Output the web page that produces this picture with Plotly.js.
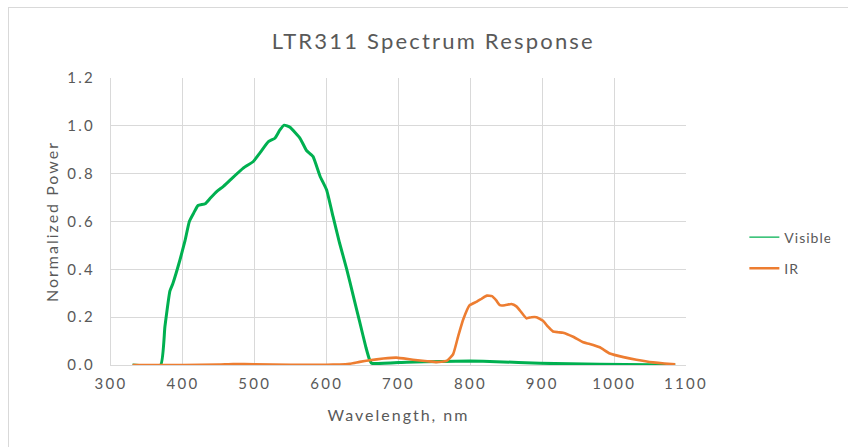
<!DOCTYPE html>
<html>
<head>
<meta charset="utf-8">
<script src="https://cdn.plot.ly/plotly-3.0.1.min.js"></script>
<style>
  html, body { margin: 0; padding: 0; background: #ffffff; overflow: hidden; }
  #wrap { position: relative; width: 848px; height: 447px; }
  #chart { position: absolute; left: 0; top: 0; width: 848px; height: 447px; }
  #frame { position: absolute; left: 8px; top: 7px; width: 900px; height: 500px;
           border-left: 1px solid #d9d9d9; border-top: 1px solid #d9d9d9; pointer-events: none; }
  #chart .gtitle { letter-spacing: 2.2px; }
  #chart .xtick text, #chart .ytick text { letter-spacing: 2.3px; }
  #chart .xtitle, #chart .ytitle { letter-spacing: 2px; }
  #chart .legendtext { letter-spacing: 1px; }
</style>
</head>
<body>
<div id="wrap">
  <div id="chart"></div>
  <div id="frame"></div>
</div>
<script>
// Visible channel (green)
const visWavelength = [330, 369, 375, 382, 386, 396, 403, 409, 415, 421, 431, 438, 447, 456, 466, 484, 498, 507, 519, 528, 535, 541, 549, 563, 572, 581, 591, 600, 609, 618, 628, 637, 646, 655, 660, 663, 711, 760, 799, 836, 897, 980, 1085];
const visPower      = [0, 0, 0.16, 0.31, 0.34, 0.44, 0.52, 0.60, 0.635, 0.667, 0.674, 0.697, 0.725, 0.746, 0.774, 0.823, 0.851, 0.886, 0.934, 0.948, 0.983, 1.003, 0.994, 0.948, 0.897, 0.872, 0.788, 0.732, 0.62, 0.51, 0.40, 0.29, 0.18, 0.07, 0.02, 0.007, 0.012, 0.015, 0.017, 0.014, 0.007, 0.003, 0];

// IR channel (orange)
const irWavelength = [330, 400, 450, 470, 500, 550, 600, 618, 632, 646, 660, 679, 697, 720, 740, 753, 767, 776, 783, 790, 799, 809, 816, 823, 830, 836, 841, 848, 857, 864, 871, 878, 885, 892, 901, 908, 915, 922, 929, 943, 957, 966, 980, 994, 1013, 1031, 1054, 1070, 1085];
const irPower      = [0, 0, 0.002, 0.004, 0.003, 0.001, 0.001, 0.002, 0.005, 0.013, 0.02, 0.027, 0.031, 0.022, 0.016, 0.012, 0.017, 0.045, 0.12, 0.19, 0.25, 0.265, 0.278, 0.29, 0.288, 0.27, 0.25, 0.25, 0.255, 0.245, 0.22, 0.195, 0.2, 0.2, 0.185, 0.16, 0.14, 0.137, 0.135, 0.118, 0.095, 0.088, 0.074, 0.048, 0.033, 0.022, 0.011, 0.006, 0.003];

const seriesNames = ['Visible', 'IR'];
const seriesColors = ['#00B050', '#ED7D31'];

const fontFam = 'Lato, "Open Sans", sans-serif';
const grey = '#595959';

const traces = [
  { x: visWavelength, y: visPower, type: 'scatter', mode: 'lines', name: seriesNames[0],
    line: { color: seriesColors[0], width: 3, shape: 'spline', smoothing: 0.4 }, showlegend: false },
  { x: irWavelength, y: irPower, type: 'scatter', mode: 'lines', name: seriesNames[1],
    line: { color: seriesColors[1], width: 2.6, shape: 'spline', smoothing: 0.4 }, showlegend: false },
  // legend entries
  { x: [null], y: [null], type: 'scatter', mode: 'lines', name: seriesNames[0], legendgroup: 'a',
    line: { color: seriesColors[0], width: 1.2 } },
  { x: [null], y: [null], type: 'scatter', mode: 'lines', name: seriesNames[1], legendgroup: 'b',
    line: { color: seriesColors[1], width: 2.6 } }
];

const layout = {
  width: 848, height: 447,
  margin: { l: 111, r: 162, t: 78, b: 82, pad: 0 },
  paper_bgcolor: '#ffffff', plot_bgcolor: '#ffffff',
  font: { family: fontFam, color: grey, size: 14 },
  title: { text: 'LTR311 Spectrum Response', font: { family: fontFam, size: 22, color: grey },
           xref: 'container', yref: 'container', x: 0.511, xanchor: 'center', y: 0.908, yanchor: 'middle' },
  xaxis: {
    range: [300, 1100], tick0: 300, dtick: 100, ticks: '',
    showgrid: true, gridcolor: '#d9d9d9', gridwidth: 1,
    showline: true, linecolor: '#d9d9d9', linewidth: 1, zeroline: false,
    tickfont: { family: fontFam, size: 15, color: grey },
    ticklabelstandoff: 5,
    title: { text: 'Wavelength, nm', font: { family: fontFam, size: 16, color: grey }, standoff: 18 }
  },
  yaxis: {
    range: [0, 1.2], tick0: 0, dtick: 0.2, tickformat: '.1f', ticks: '',
    showgrid: true, gridcolor: '#d9d9d9', gridwidth: 1,
    showline: true, linecolor: '#d9d9d9', linewidth: 1, zeroline: false,
    tickfont: { family: fontFam, size: 15, color: grey },
    ticklabelstandoff: 12,
    title: { text: 'Normalized Power', font: { family: fontFam, size: 16, color: grey }, standoff: 11 }
  },
  legend: {
    x: 1.1015, xanchor: 'left', y: 0.50, yanchor: 'top',
    font: { family: fontFam, size: 14, color: grey },
    bgcolor: 'rgba(0,0,0,0)', borderwidth: 0,
    tracegroupgap: 10
  },
  showlegend: true
};

Plotly.newPlot('chart', traces, layout, { displayModeBar: false, staticPlot: true });
</script>
</body>
</html>
